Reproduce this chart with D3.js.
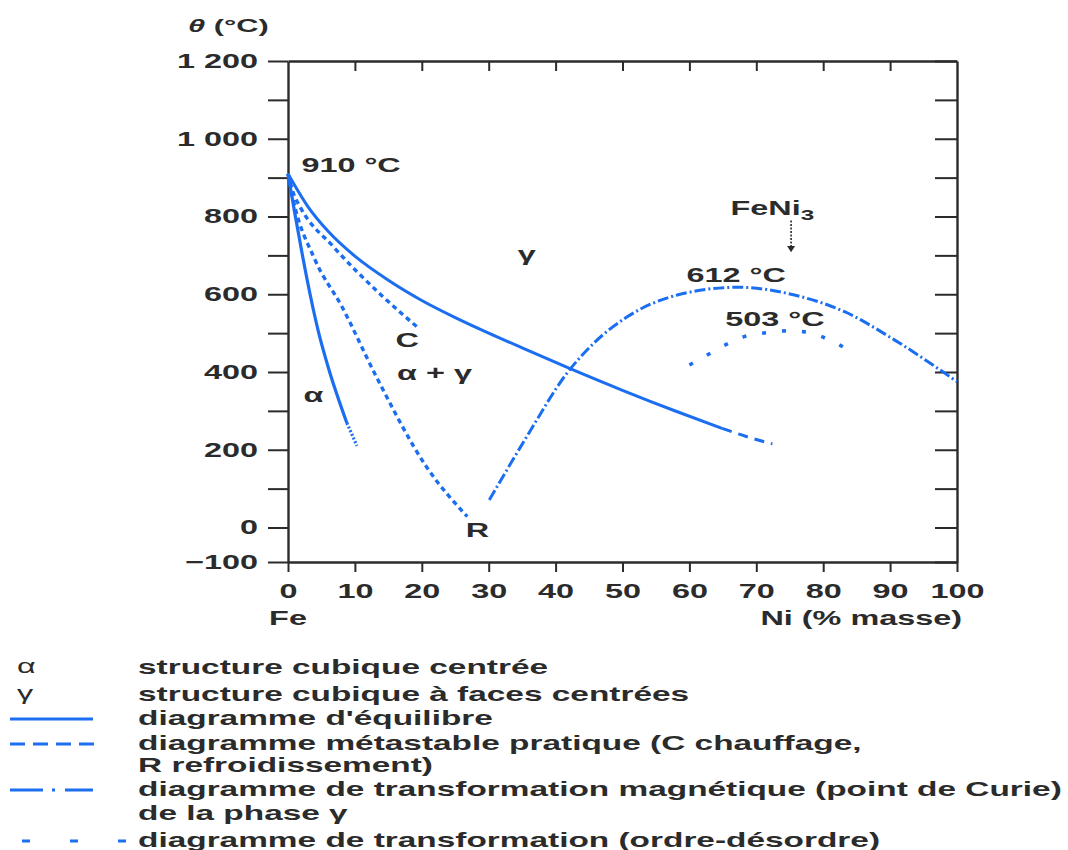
<!DOCTYPE html>
<html>
<head>
<meta charset="utf-8">
<script src="https://cdn.jsdelivr.net/npm/d3@7"></script>
<style>
  body { margin: 0; background: #fff; }
  svg { display: block; }
</style>
</head>
<body>
<svg id="chart" width="1068" height="850"></svg>
<script>
// Fe-Ni diagram, values (Ni % masse, temperature °C)

var eqSolid = [[0, 910], [3, 825], [6, 762], [10, 698], [15, 636], [20, 584], [25, 540],
               [30, 500], [35, 462], [42, 410], [50, 353], [58, 299], [64.9, 255]];
var eqDashed = [[64.9, 255], [68.5, 234], [72.4, 215]];

var alphaSolid = [[0, 910], [1, 810], [2, 715], [3.3, 600], [4.6, 500], [6.0, 413], [8.8, 269]];
var alphaDotted = [[8.8, 269], [10.3, 210]];

var heatC = [[0, 910], [0.8, 860], [1.8, 825], [6.8, 722], [13.8, 600], [19.3, 516]];
var coolR = [[0, 910], [0.8, 842], [4, 690], [8, 570], [13.2, 388], [20.7, 156], [26.8, 28]];

var curie = [[30.1, 71], [35.7, 234], [41.7, 397], [45.7, 474], [50.7, 542], [58.2, 598],
             [67.2, 618], [75.7, 598], [83.2, 555], [90.7, 482], [100, 375]];

var order = [[60, 418], [62.6, 443], [65.3, 469], [68.2, 491], [71.4, 501], [74.9, 506],
             [78.2, 500], [81.2, 480], [84, 455]];

var xTicks = [0, 10, 20, 30, 40, 50, 60, 70, 80, 90, 100];
var yTicks = [-100, 0, 100, 200, 300, 400, 500, 600, 700, 800, 900, 1000, 1100, 1200];
var yLabelled = [-100, 0, 200, 400, 600, 800, 1000, 1200];

var notes = [
  {text: "910 °C", ni: 2.0, t: 914, anchor: "start"},
  {text: "γ", ni: 35.7, t: 685, anchor: "middle"},
  {text: "612 °C", ni: 67, t: 631, anchor: "middle"},
  {text: "503 °C", ni: 72.8, t: 518, anchor: "middle"},
  {text: "C", ni: 17.8, t: 464, anchor: "middle"},
  {text: "α + γ", ni: 21.9, t: 379, anchor: "middle"},
  {text: "α", ni: 3.8, t: 323, anchor: "middle"},
  {text: "R", ni: 28.3, t: -27, anchor: "middle"}
];

var legendText = [
  "structure cubique centrée",
  "structure cubique à faces centrées",
  "diagramme d'équilibre",
  "diagramme métastable pratique (C chauffage,",
  "R refroidissement)",
  "diagramme de transformation magnétique (point de Curie)",
  "de la phase γ",
  "diagramme de transformation (ordre-désordre)"
];

var BLUE = "#1b6ef0";
var INK = "#2b2b2b";
var FONT = "'Liberation Sans', Arial, sans-serif";
var SX = 1.62;      // the lettering in the picture is stretched sideways
var SX_LEG = 1.67;

var svg = d3.select("#chart");

var x = d3.scaleLinear().domain([0, 100]).range([288, 957]);
var y = d3.scaleLinear().domain([-100, 0, 1200]).range([562, 527.5, 61]);

function label(g, px, py, txt, anchor, size, sx) {
  return g.append("text")
    .attr("transform", "translate(" + px + "," + py + ") scale(" + (sx || SX) + ",1)")
    .attr("text-anchor", anchor || "start")
    .style("font-family", FONT)
    .style("font-size", (size || 20) + "px")
    .style("font-weight", "bold")
    .attr("fill", INK)
    .text(txt);
}

function stretchTicks(sel) {
  sel.selectAll("text").each(function() {
    var t = d3.select(this);
    t.attr("x", (+t.attr("x") || 0) / SX)
     .attr("transform", "scale(" + SX + ",1)");
  });
}

// axes / frame
var axes = svg.append("g");

var left = axes.append("g").attr("transform", "translate(" + x(0) + ",0)")
  .call(d3.axisLeft(y).tickValues(yTicks).tickSize(20).tickSizeOuter(0).tickPadding(10)
    .tickFormat(function(d) {
      if (yLabelled.indexOf(d) < 0) return "";
      if (d < 0) return "\u2212" + Math.abs(d);
      return d3.format(",")(d).replace(/,/g, " ");
    }));
stretchTicks(left);

var bottom = axes.append("g").attr("transform", "translate(0," + y(-100) + ")")
  .call(d3.axisBottom(x).tickValues(xTicks).tickSize(10).tickSizeOuter(0).tickPadding(12));
stretchTicks(bottom);

axes.append("g").attr("transform", "translate(0," + y(1200) + ")")
  .call(d3.axisTop(x).tickValues(xTicks.slice(1, -1)).tickSize(-10).tickSizeOuter(0).tickFormat(""));

axes.append("g").attr("transform", "translate(" + x(100) + ",0)")
  .call(d3.axisRight(y).tickValues(yTicks).tickSize(-22).tickSizeOuter(0).tickFormat(""));

axes.selectAll("path.domain").attr("stroke", INK).attr("stroke-width", 2.4);
axes.selectAll(".tick line").attr("stroke", INK).attr("stroke-width", 2);
axes.selectAll(".tick text")
  .style("font-family", FONT).style("font-size", "20px").style("font-weight", "bold")
  .attr("fill", INK);

// axis titles
var title = label(svg, 188, 32, "", "start", 19);
title.append("tspan").style("font-style", "italic").text("θ");
title.append("tspan").text(" (°C)");
label(svg, x(0), y(-100) + 63, "Fe", "middle");
label(svg, x(100) + 5, y(-100) + 63, "Ni (% masse)", "end");

// curves
var line = d3.line()
  .x(function(d) { return x(d[0]); })
  .y(function(d) { return y(d[1]); })
  .curve(d3.curveMonotoneX);

var curves = [
  {data: eqSolid, dash: null, w: 3},
  {data: eqDashed, dash: "10 7", w: 3},
  {data: alphaSolid, dash: null, w: 3.2},
  {data: alphaDotted, dash: "2 2", w: 3.2},
  {data: heatC, dash: "5 4", w: 3.4},
  {data: coolR, dash: "5 4", w: 3.4},
  {data: curie, dash: "11 3 2 3", w: 3},
  {data: order, dash: "4 16", w: 3.6}
];

svg.append("g").selectAll("path").data(curves).enter().append("path")
  .attr("d", function(d) { return line(d.data); })
  .attr("fill", "none")
  .attr("stroke", BLUE)
  .attr("stroke-width", function(d) { return d.w; })
  .attr("stroke-dasharray", function(d) { return d.dash; });

// annotations
var ann = svg.append("g");
notes.forEach(function(n) {
  label(ann, x(n.ni), y(n.t), n.text, n.anchor);
});

var fe = label(ann, x(72.4), y(804), "FeNi", "middle");
fe.append("tspan").attr("dy", 5).style("font-size", "15px").text("3");

var ax = x(75.2);
ann.append("line")
  .attr("x1", ax).attr("x2", ax).attr("y1", y(790)).attr("y2", y(722))
  .attr("stroke", INK).attr("stroke-width", 1.6).attr("stroke-dasharray", "2 1.5");
ann.append("path")
  .attr("d", "M" + (ax - 4) + "," + y(724) + "L" + (ax + 4) + "," + y(724) + "L" + ax + "," + y(708) + "Z")
  .attr("fill", INK);

// legend
var leg = svg.append("g");
var rowY = [674, 701, 725, 750, 772, 796, 820, 847];

legendText.forEach(function(t, i) {
  label(leg, 138, rowY[i], t, "start", 20, SX_LEG);
});
label(leg, 17, rowY[0] - 1, "α", "start", 20).style("font-weight", "normal");
label(leg, 17, rowY[1] - 1, "γ", "start", 20).style("font-weight", "normal");

var legLines = [
  {row: 2, dash: null, x1: 10, x2: 93},
  {row: 3, dash: "15 8", x1: 10, x2: 94},
  {row: 5, dash: "33 9 3 10 28", x1: 10, x2: 93},
  {row: 7, dash: "8 40", x1: 22, x2: 128}
];
leg.selectAll("line").data(legLines).enter().append("line")
  .attr("x1", function(d) { return d.x1; })
  .attr("x2", function(d) { return d.x2; })
  .attr("y1", function(d) { return rowY[d.row] - 6; })
  .attr("y2", function(d) { return rowY[d.row] - 6; })
  .attr("stroke", BLUE)
  .attr("stroke-width", 3)
  .attr("stroke-dasharray", function(d) { return d.dash; });
</script>
</body>
</html>
